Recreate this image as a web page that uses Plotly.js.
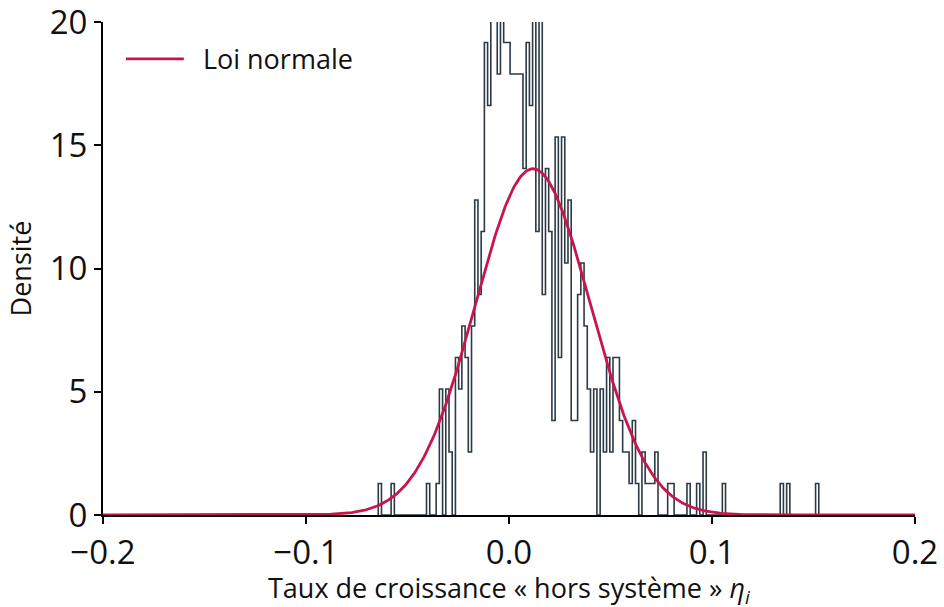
<!DOCTYPE html>
<html><head><meta charset="utf-8">
<script src="https://cdn.plot.ly/plotly-3.0.1.min.js"></script>
<style>html,body{margin:0;padding:0;background:#fff}#chart{width:944px;height:607px}</style>
</head><body><div id="chart"></div>
<script>
// Histogram bins (left edge of first bin, bin width) and counts per bin
const binStart = -0.0644;
const binWidth = 0.001584;
const counts = [
  1,0,0,0,1,0,0,0,0,0, 0,0,0,0,0,1,0,0,1,4,
  0,4,2,0,5,4,6,5,2,6, 10,7,9,15,13,16,17,14,17,15,
  15,14,14,14,14,11,15,13,17,9, 17,7,11,9,3,12,5,12,8,10,
  3,3,7,8,6,4,2,4,0,4, 2,5,2,5,5,3,2,2,1,3,
  1,0,2,1,1,1,2,0,0,0, 1,1,0,0,0,0,1,0,0,1,
  0,2,0,0,0,0,0,1,0,0, 0,0,0,0,0,0,0,0,0,0,
  0,0,0,0,0,1,0,1,0,0, 0,0,0,0,0,0,1
];
// Fitted normal law parameters
const normalMean = 0.0118;
const normalStd = 0.0284;
const xTickVals = [-0.2, -0.1, 0.0, 0.1, 0.2];
const xTickText = ['\u22120.2', '\u22120.1', '0.0', '0.1', '0.2'];
const yTickVals = [0, 5, 10, 15, 20];
const yTickText = ['0', '5', '10', '15', '20'];
const xTitle = 'Taux de croissance « hors système » <i>η<sub>i</sub></i>';
const yTitle = 'Densité';

const total = counts.reduce((a, b) => a + b, 0);
const density = counts.map(c => c / (total * binWidth));
const hx = [binStart], hy = [0];
density.forEach((d, i) => {
  const x0 = binStart + i * binWidth;
  hx.push(x0, x0 + binWidth);
  hy.push(d, d);
});
hx.push(binStart + counts.length * binWidth); hy.push(0);

const nx = [], ny = [];
for (let i = 0; i <= 800; i++) {
  const x = -0.2 + i * 0.0005;
  const z = (x - normalMean) / normalStd;
  nx.push(x);
  ny.push(Math.exp(-0.5 * z * z) / (normalStd * Math.sqrt(2 * Math.PI)));
}

const font = '"Open Sans", "Noto Sans", sans-serif';
const traces = [
  {x: hx, y: hy, type: 'scatter', mode: 'lines', name: 'Histogramme',
   line: {color: '#2b3a46', width: 1.6}, showlegend: false, hoverinfo: 'skip'},
  {x: nx, y: ny, type: 'scatter', mode: 'lines', name: '\u00a0\u00a0Loi normale',
   line: {color: '#c8164b', width: 2.8}}
];
const layout = {
  width: 944, height: 607,
  margin: {l: 103, r: 29, t: 22, b: 92},
  paper_bgcolor: '#fff', plot_bgcolor: '#fff',
  font: {family: font, color: '#111'},
  showlegend: true,
  legend: {x: 0.022, y: 0.974, xanchor: 'left', yanchor: 'top', font: {size: 27, color: '#111'},
           itemwidth: 58, bgcolor: 'rgba(0,0,0,0)'},
  xaxis: {range: [-0.2, 0.2], tickvals: xTickVals, ticktext: xTickText,
          showline: true, linecolor: '#000', linewidth: 2, ticks: 'outside', ticklen: 7,
          tickwidth: 2, tickcolor: '#000', showgrid: false, zeroline: false,
          ticklabeloverflow: 'allow',
          tickfont: {size: 33, color: '#111'}},
  yaxis: {range: [0, 20], tickvals: yTickVals, ticktext: yTickText,
          showline: true, linecolor: '#000', linewidth: 2, ticks: 'outside', ticklen: 7,
          tickwidth: 2, tickcolor: '#000', showgrid: false, zeroline: false,
          ticklabeloverflow: 'allow',
          tickfont: {size: 33, color: '#111'},
          title: {text: yTitle, font: {size: 27, color: '#111'}, standoff: 10}},
  annotations: [
    {text: xTitle, xref: 'paper', yref: 'paper', x: 0.5, y: -0.152,
     xanchor: 'center', yanchor: 'middle', showarrow: false,
     font: {size: 27, color: '#111'}}
  ]
};
Plotly.newPlot('chart', traces, layout, {staticPlot: true, displayModeBar: false});
</script>
</body></html>
